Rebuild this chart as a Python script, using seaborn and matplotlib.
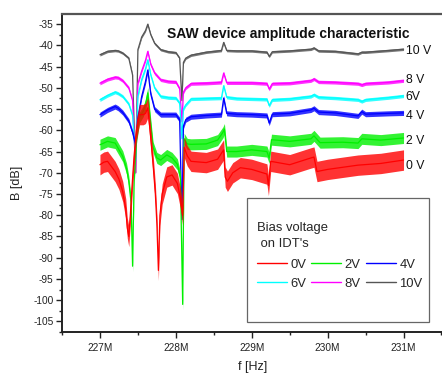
import matplotlib
matplotlib.use("Agg")
import matplotlib.pyplot as plt
from matplotlib.patches import Rectangle
from matplotlib.lines import Line2D
from matplotlib.ticker import MultipleLocator, FuncFormatter
import pandas as pd
import seaborn as sns

# ---------------- data ----------------
labels = ["0V", "2V", "4V", "6V", "8V", "10V"]
end_labels = ["0 V", "2 V", "4 V", "6V", "8 V", "10 V"]
end_label_y = [-68.3, -62.4, -56.7, -52.2, -48.1, -41.4]
colors = ["#ff0000", "#00f000", "#0000ff", "#00ffff", "#ff00ff", "#555555"]
noise = [2.4, 1.3, 0.6, 0.4, 0.4, 0.3]

f_0v = [227.0, 227.05, 227.1, 227.2, 227.25, 227.3, 227.34, 227.36, 227.38, 227.4,
        227.42, 227.45, 227.48, 227.52, 227.57, 227.6, 227.63, 227.66, 227.7, 227.73,
        227.75, 227.77, 227.79, 227.82, 227.88, 227.95, 228.02, 228.06, 228.09, 228.11,
        228.15, 228.2, 228.4, 228.55, 228.63, 228.65, 228.68, 228.75, 228.85, 229.0,
        229.2, 229.22, 229.25, 229.5, 229.78, 229.82, 229.86, 230.0, 230.4, 230.7, 231.0]
db_0v = [-68.1, -67.5, -67.3, -69.7, -71.5, -74.4, -78.5, -83.0, -85.0, -80.0,
         -74.0, -66.0, -60.0, -56.3, -56.3, -56.0, -54.7, -60.0, -68.0, -75.0,
         -82.0, -93.0, -80.0, -75.0, -71.0, -70.5, -72.5, -76.0, -80.0, -64.0,
         -66.0, -67.3, -67.6, -66.8, -64.6, -71.0, -72.0, -70.0, -68.8, -69.2,
         -70.3, -73.0, -67.3, -68.1, -66.5, -66.3, -69.7, -69.2, -68.2, -67.8, -67.0]

f_2v = [227.0, 227.1, 227.2, 227.3, 227.35, 227.38, 227.41, 227.43, 227.45, 227.48,
        227.52, 227.57, 227.6, 227.63, 227.66, 227.7, 227.75, 227.8, 227.88, 227.95,
        228.02, 228.06, 228.09, 228.11, 228.15, 228.2, 228.4, 228.55, 228.62, 228.64,
        228.67, 228.8, 229.0, 229.2, 229.23, 229.26, 229.5, 229.78, 229.82, 229.9,
        230.2, 230.4, 230.45, 230.7, 231.0]
db_2v = [-63.4, -62.6, -63.0, -66.1, -69.0, -72.0, -77.0, -92.0, -72.0, -62.0,
         -57.0, -55.5, -54.0, -51.2, -57.0, -64.0, -66.5, -67.0, -65.8, -66.5,
         -68.0, -71.0, -101.0, -62.0, -63.2, -63.3, -63.2, -62.3, -60.5, -59.7,
         -65.0, -65.0, -64.6, -65.0, -66.5, -62.2, -62.6, -62.0, -61.3, -62.9,
         -62.8, -63.0, -62.0, -62.3, -61.8]

f_top = [227.0, 227.1, 227.2, 227.24, 227.3, 227.38, 227.43, 227.47, 227.5, 227.55,
         227.6, 227.63, 227.67, 227.72, 227.8, 227.9, 228.0, 228.05, 228.08, 228.1,
         228.13, 228.2, 228.4, 228.6, 228.63, 228.67, 228.8, 229.0, 229.2, 229.23,
         229.27, 229.5, 229.78, 229.82, 229.88, 230.1, 230.4, 230.45, 230.5, 230.8, 231.0]
db_4v = [-56.3, -55.2, -54.4, -54.8, -55.8, -57.8, -60.5, -63.5, -57.0, -52.0,
         -48.5, -45.8, -51.5, -55.0, -56.3, -56.3, -56.3, -57.5, -81.0, -59.0,
         -57.5, -56.8, -56.5, -56.3, -52.4, -56.0, -56.2, -56.3, -56.5, -58.3,
         -56.2, -56.0, -55.2, -54.8, -55.7, -55.9, -56.6, -55.6, -56.2, -56.0, -55.9]
db_6v = [-52.8, -51.8, -51.0, -51.3, -52.0, -53.8, -56.5, -67.0, -52.0, -48.0,
         -45.5, -43.4, -47.0, -50.0, -52.0, -52.3, -52.4, -53.6, -62.0, -55.0,
         -54.0, -52.6, -52.5, -52.4, -49.5, -52.2, -52.5, -52.6, -52.7, -54.2,
         -52.8, -52.6, -52.0, -51.6, -52.2, -52.4, -52.8, -53.2, -52.8, -52.3, -51.9]
db_8v = [-48.9, -48.0, -47.5, -47.6, -48.3, -50.0, -53.0, -70.0, -49.0, -46.0,
         -43.5, -41.4, -44.5, -46.5, -48.1, -48.5, -48.6, -50.2, -58.0, -51.0,
         -50.0, -49.0, -48.9, -48.7, -46.5, -48.8, -48.8, -48.8, -49.0, -50.3,
         -49.0, -48.9, -48.3, -47.9, -48.6, -48.7, -49.0, -49.3, -49.0, -48.7, -48.3]
db_10v = [-42.2, -41.4, -41.2, -41.3, -41.8, -43.0, -47.0, -70.0, -41.0, -38.0,
          -36.5, -35.0, -37.5, -39.5, -41.0, -41.5, -41.7, -43.0, -53.0, -44.0,
          -43.0, -42.3, -41.6, -41.2, -39.3, -41.2, -41.3, -41.3, -41.6, -42.6,
          -41.5, -41.3, -40.9, -40.6, -41.3, -41.4, -42.0, -41.6, -41.6, -41.2, -40.9]

freqs = [f_0v, f_2v, f_top, f_top, f_top, f_top]
dbs = [db_0v, db_2v, db_4v, db_6v, db_8v, db_10v]

xticks = [227, 228, 229, 230, 231]
xtick_labels = ["227M", "228M", "229M", "230M", "231M"]

# ---------------- figure ----------------
sns.set_style("ticks")
plt.rcParams["font.family"] = ["Liberation Sans", "DejaVu Sans"]

fig = plt.figure(figsize=(4.42, 3.75), dpi=100)
ax = fig.add_axes([62 / 442, 43 / 375, 381 / 442, 318 / 375])

frames = []
for lab, f, d in zip(labels, freqs, dbs):
    frames.append(pd.DataFrame({"f": f, "dB": d, "bias": lab}))
df = pd.concat(frames, ignore_index=True)

order = list(range(len(labels)))[::-1]
for i in order:
    sub = df[df["bias"] == labels[i]]
    ax.fill_between(sub["f"], sub["dB"] - noise[i], sub["dB"] + noise[i],
                    color=colors[i], alpha=0.8, lw=0, zorder=2 + (5 - i) * 0.1)
    sns.lineplot(data=sub, x="f", y="dB", color=colors[i], lw=0.9,
                 estimator=None, sort=False, ax=ax, legend=False,
                 zorder=2.05 + (5 - i) * 0.1)

ax.set_xlim(226.5, 231.52)
ax.set_ylim(-107.5, -32.6)

ax.set_xticks(xticks)
ax.set_xticklabels(xtick_labels)
ax.xaxis.set_minor_locator(MultipleLocator(0.5))
ax.yaxis.set_major_locator(MultipleLocator(5))
ax.yaxis.set_minor_locator(MultipleLocator(2.5))
ax.yaxis.set_major_formatter(FuncFormatter(lambda v, p: f"{v:.0f}"))
ax.set_ylim(-107.5, -32.6)

ax.tick_params(axis="both", which="major", direction="out", length=4, width=1,
               labelsize=7.3, colors="#222222", pad=2)
ax.tick_params(axis="both", which="minor", direction="out", length=2.5, width=1,
               colors="#222222")
ax.tick_params(axis="x", which="major", pad=4)

for s in ["left", "bottom"]:
    ax.spines[s].set_linewidth(1.4)
    ax.spines[s].set_color("#222222")
ax.spines["top"].set_linewidth(1.6)
ax.spines["top"].set_color("#555555")
ax.spines["right"].set_visible(False)

ax.set_xlabel("f [Hz]", fontsize=9, color="#222222")
ax.set_ylabel("B [dB]", fontsize=9, color="#222222")
ax.xaxis.set_label_coords(0.5, -0.091)
ax.yaxis.set_label_coords(-0.102, 0.47)

ax.text(0.593, 0.937, "SAW device amplitude characteristic", transform=ax.transAxes,
        fontsize=10, fontweight="bold", color="#111111", ha="center", va="center")

for lab, yv in zip(end_labels, end_label_y):
    ax.text(231.03, yv, lab, fontsize=8.8, color="#111111", ha="left", va="center")

# legend box
ax.add_patch(Rectangle((0.4865, 0.031), 0.476, 0.390, transform=ax.transAxes,
                       facecolor="white", edgecolor="#666666", lw=0.9, zorder=5))
handles = [Line2D([0], [0], color=c, lw=1.0) for c in colors]
idx = [0, 3, 1, 4, 2, 5]
leg = ax.legend([handles[i] for i in idx], [labels[i] for i in idx], ncol=3,
                title="Bias voltage\n on IDT's", loc="upper left",
                bbox_to_anchor=(0.512, 0.346), frameon=False, fontsize=9.4,
                title_fontsize=9.4, handlelength=2.3, handletextpad=0.25,
                columnspacing=0.4, labelspacing=0.5, borderpad=0, borderaxespad=0)
leg._legend_box.align = "left"
leg._legend_box.sep = 6
leg.get_title().set_linespacing(1.5)
leg.set_zorder(6)

fig.savefig("out.png", dpi=100)
